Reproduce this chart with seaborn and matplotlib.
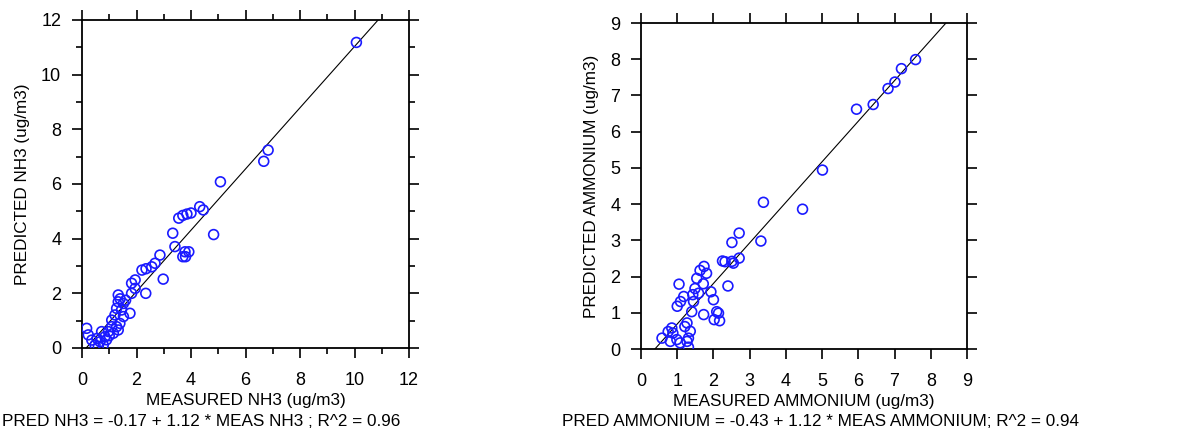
import matplotlib
matplotlib.use("Agg")
import matplotlib.pyplot as plt
import seaborn as sns
import pandas as pd
import numpy as np
from matplotlib.ticker import MultipleLocator

# Measured vs predicted NH3 (ug/m3)
nh3_measured = [10.07, 6.83, 6.67, 5.08, 4.83, 4.32, 4.45, 4.00, 3.85, 3.70,
                3.55, 3.33, 3.41, 3.78, 3.92, 3.70, 3.80, 2.86, 2.68, 2.56,
                2.35, 2.20, 2.98, 2.34, 1.95, 1.82, 1.95, 1.82, 1.76, 1.60,
                0.17, 0.23, 0.36, 0.48, 0.55, 0.66, 0.78, 0.84, 0.72, 0.97,
                1.09, 1.09, 1.21, 1.27, 1.33, 1.33, 1.39, 1.33, 1.45, 1.52,
                1.15, 1.27, 1.52, 1.40, 0.90, 1.00, 0.60]
nh3_predicted = [11.18, 7.24, 6.83, 6.08, 4.15, 5.17, 5.05, 4.94, 4.90, 4.85,
                 4.75, 4.20, 3.71, 3.52, 3.52, 3.34, 3.34, 3.40, 3.10, 2.97,
                 2.90, 2.85, 2.52, 2.00, 2.49, 2.37, 2.18, 2.00, 1.27, 1.75,
                 0.72, 0.48, 0.29, 0.11, 0.35, 0.23, 0.11, 0.41, 0.60, 0.60,
                 0.78, 1.02, 1.21, 1.45, 1.69, 1.94, 0.90, 0.66, 1.39, 1.63,
                 0.54, 0.78, 1.15, 1.80, 0.30, 0.45, 0.05]

# Measured vs predicted ammonium (ug/m3)
amm_measured = [7.58, 7.19, 7.01, 6.82, 6.41, 5.95, 5.01, 4.46, 3.38, 3.31,
                2.71, 2.51, 2.71, 2.51, 2.55, 2.32, 2.25, 2.40, 1.74, 1.63,
                1.81, 1.54, 1.05, 1.72, 1.93, 2.00, 1.59, 1.43, 1.18, 1.09,
                1.00, 1.45, 1.73, 2.02, 2.14, 2.17, 2.09, 1.40, 0.85, 0.88,
                0.58, 0.81, 0.99, 1.27, 1.36, 1.27, 1.31, 1.08, 1.31, 0.75,
                1.21, 1.49]
amm_predicted = [7.99, 7.74, 7.37, 7.19, 6.75, 6.62, 4.94, 3.86, 4.05, 2.98,
                 3.20, 2.94, 2.51, 2.42, 2.37, 2.41, 2.43, 1.74, 2.28, 2.17,
                 2.09, 1.95, 1.79, 1.80, 1.58, 1.36, 1.54, 1.50, 1.45, 1.31,
                 1.18, 1.31, 0.95, 0.81, 0.99, 0.78, 1.03, 1.03, 0.58, 0.44,
                 0.30, 0.21, 0.26, 0.72, 0.49, 0.21, 0.05, 0.17, 0.30, 0.48,
                 0.62, 1.67]

# Regression fits: PRED = intercept + slope * MEAS
nh3_fit = (-0.17, 1.12, 0.96)
amm_fit = (-0.43, 1.12, 0.94)

sns.set_theme(style="white")
plt.rcParams["font.family"] = ["Liberation Sans", "DejaVu Sans"]

W, H = 1183, 441
fig = plt.figure(figsize=(W / 100, H / 100), dpi=100)

def px_axes(x0, x1, y0, y1):
    return fig.add_axes([x0 / W, 1 - y1 / H, (x1 - x0) / W, (y1 - y0) / H])

ax1 = px_axes(82, 409, 20, 348)
ax2 = px_axes(641, 967, 23, 349)

blue = "#1a1aff"
tick_fs = 13
text_fs = 12.3


def draw_panel(ax, meas, pred, fit, lim, major, minor, xlabel, ylabel):
    df = pd.DataFrame({"meas": meas, "pred": pred})
    sns.scatterplot(data=df, x="meas", y="pred", ax=ax, s=50,
                    facecolors="none", edgecolor=blue, linewidth=1.2,
                    zorder=3)
    a, b, _ = fit
    xs = np.array([0.0, lim])
    ax.plot(xs, a + b * xs, color="black", lw=0.8, zorder=2)
    ax.set_xlim(0, lim)
    ax.set_ylim(0, lim)
    for side in ["top", "bottom", "left", "right"]:
        ax.spines[side].set_visible(True)
        ax.spines[side].set_color("black")
        ax.spines[side].set_linewidth(1.3)
    ax.xaxis.set_major_locator(MultipleLocator(major))
    ax.yaxis.set_major_locator(MultipleLocator(major))
    if minor:
        ax.xaxis.set_minor_locator(MultipleLocator(minor))
        ax.yaxis.set_minor_locator(MultipleLocator(minor))
    ax.tick_params(which="major", direction="out", length=7, width=1.2,
                   color="black", top=True, right=True, bottom=True,
                   left=True, labelsize=tick_fs, labelcolor="black")
    ax.tick_params(axis="x", which="major", pad=10)
    ax.tick_params(axis="y", which="major", pad=8)
    ax.tick_params(which="minor", direction="out", length=4, width=1.2,
                   color="black", top=True, right=True, bottom=True,
                   left=True)
    ax.set_xlabel(xlabel, fontsize=text_fs, color="black", labelpad=3)
    ax.set_ylabel(ylabel, fontsize=text_fs, color="black", labelpad=8)
    ax.grid(False)
    ax.set_facecolor("white")


draw_panel(ax1, nh3_measured, nh3_predicted, nh3_fit, 12, 2, 1,
           "MEASURED NH3 (ug/m3)", "PREDICTED NH3 (ug/m3)")
draw_panel(ax2, amm_measured, amm_predicted, amm_fit, 9, 1, None,
           "MEASURED AMMONIUM (ug/m3)", "PREDICTED AMMONIUM (ug/m3)")

eq1 = "PRED NH3 = %.2f + %.2f * MEAS NH3 ; R^2 = %.2f" % nh3_fit
eq2 = "PRED AMMONIUM = %.2f + %.2f * MEAS AMMONIUM; R^2 = %.2f" % amm_fit
fig.text(201 / W, 1 - 421 / H, eq1, ha="center", va="center",
         fontsize=text_fs, color="black")
fig.text(821 / W, 1 - 421 / H, eq2, ha="center", va="center",
         fontsize=text_fs, color="black")

fig.savefig("out.png", dpi=100, facecolor="white")
